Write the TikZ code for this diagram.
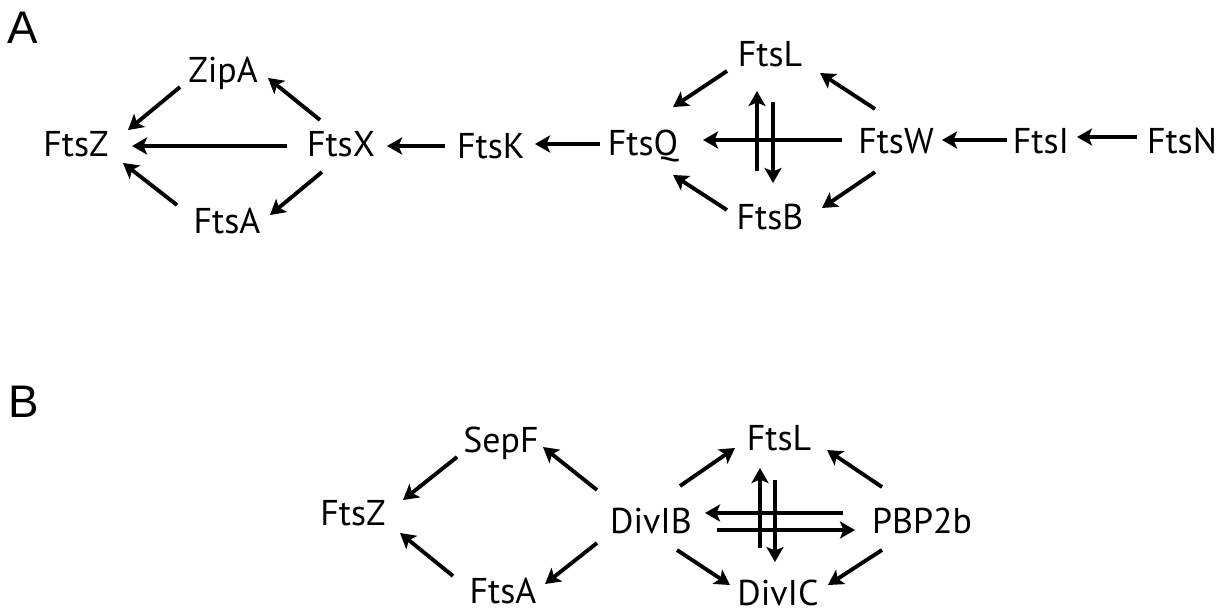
\documentclass[tikz,border=0pt]{standalone}
\usepackage{fontspec}
\setmainfont{PT Sans}
\newfontfamily\panelfont{Liberation Sans}
\usetikzlibrary{
    arrows.meta,
    calc,
    positioning
}

\tikzset{
    prot/.style={anchor=base, inner sep=0pt, font=\fontsize{20.4}{20.4}\selectfont},
    panel/.style={anchor=base, inner sep=0pt, font=\panelfont\fontsize{26}{26}\selectfont},
    arr/.style={-{Stealth[length=0.3cm, width=0.34cm, inset=0.07cm]}, line width=2.2pt}
}

\begin{document}
\begin{tikzpicture}[x=0.02cm, y=-0.02cm]
    \useasboundingbox (0,0) rectangle (1227,609);
    % panel A
    \node[panel] (pa) at (23, 43) {A};
    \node[prot] (ftsz) at (76, 156) {FtsZ};
    \node[prot] (zipa) at (223, 82) {ZipA};
    \node[prot] (ftsa) at (227, 233) {FtsA};
    \node[prot] (ftsx) at (341, 156) {FtsX};
    \node[prot] (ftsk) at (491, 158) {FtsK};
    \node[prot] (ftsq) at (643, 155) {FtsQ};
    \node[prot] (ftsl) at (770, 66) {FtsL};
    \node[prot] (ftsb) at (770, 229) {FtsB};
    \node[prot] (ftsw) at (896, 153) {FtsW};
    \node[prot] (ftsi) at (1041, 153) {FtsI};
    \node[prot] (ftsn) at (1182, 153) {FtsN};
    \draw[arr] ($(zipa.base)+(-43,5)$) -- ($(ftsz.base)+(52,-26)$);
    \draw[arr] ($(ftsx.base)+(-21,-36)$) -- ($(zipa.base)+(45,-4)$);
    \draw[arr] ($(ftsx.base)+(-54,-10)$) -- ($(ftsz.base)+(56,-10)$);
    \draw[arr] ($(ftsx.base)+(-19,16)$) -- ($(ftsa.base)+(43,-18)$);
    \draw[arr] ($(ftsa.base)+(-50,-28)$) -- ($(ftsz.base)+(47,7)$);
    \draw[arr] ($(ftsk.base)+(-46,-12)$) -- ($(ftsx.base)+(46,-10)$);
    \draw[arr] ($(ftsq.base)+(-43,-11)$) -- ($(ftsk.base)+(44,-14)$);
    \draw[arr] ($(ftsl.base)+(-43,5)$) -- ($(ftsq.base)+(30,-48)$);
    \draw[arr] ($(ftsb.base)+(-43,-19)$) -- ($(ftsq.base)+(30,20)$);
    \draw[arr] ($(ftsw.base)+(-54,-13)$) -- ($(ftsq.base)+(60,-15)$);
    \draw[arr] ($(ftsb.base)+(-13,-58)$) -- ($(ftsl.base)+(-13,25)$);
    \draw[arr] ($(ftsl.base)+(3,36)$) -- ($(ftsb.base)+(3,-46)$);
    \draw[arr] ($(ftsw.base)+(-21,-44)$) -- ($(ftsl.base)+(50,7)$);
    \draw[arr] ($(ftsw.base)+(-21,19)$) -- ($(ftsb.base)+(52,-21)$);
    \draw[arr] ($(ftsi.base)+(-34,-13)$) -- ($(ftsw.base)+(46,-13)$);
    \draw[arr] ($(ftsn.base)+(-45,-16)$) -- ($(ftsi.base)+(36,-16)$);
    % panel B
    \node[panel] (pb) at (24, 417) {B};
    \node[prot] (bftsz) at (353, 525) {FtsZ};
    \node[prot] (sepf) at (501, 452) {SepF};
    \node[prot] (bftsa) at (503, 603) {FtsA};
    \node[prot] (divib) at (651, 533) {DivIB};
    \node[prot] (bftsl) at (779, 450) {FtsL};
    \node[prot] (divic) at (778, 605) {DivIC};
    \node[prot] (pbp) at (922, 533) {PBP2b};
    \draw[arr] ($(sepf.base)+(-44,5)$) -- ($(bftsz.base)+(50,-25)$);
    \draw[arr] ($(divib.base)+(-54,-43)$) -- ($(sepf.base)+(42,-5)$);
    \draw[arr] ($(divib.base)+(-54,10)$) -- ($(bftsa.base)+(42,-19)$);
    \draw[arr] ($(bftsa.base)+(-50,-27)$) -- ($(bftsz.base)+(47,8)$);
    \draw[arr] ($(divib.base)+(29,-47)$) -- ($(bftsl.base)+(-44,-2)$);
    \draw[arr] ($(pbp.base)+(-40,-46)$) -- ($(bftsl.base)+(48,0)$);
    \draw[arr] ($(divib.base)+(26,17)$) -- ($(divic.base)+(-48,-20)$);
    \draw[arr] ($(pbp.base)+(-40,17)$) -- ($(divic.base)+(50,-20)$);
    \draw[arr] ($(pbp.base)+(-79,-20)$) -- ($(divib.base)+(54,-20)$);
    \draw[arr] ($(divib.base)+(66,-3)$) -- ($(pbp.base)+(-67,-3)$);
    \draw[arr] ($(divic.base)+(-18,-57)$) -- ($(bftsl.base)+(-19,18)$);
    \draw[arr] ($(bftsl.base)+(-4,30)$) -- ($(divic.base)+(-3,-43)$);
\end{tikzpicture}
\end{document}
